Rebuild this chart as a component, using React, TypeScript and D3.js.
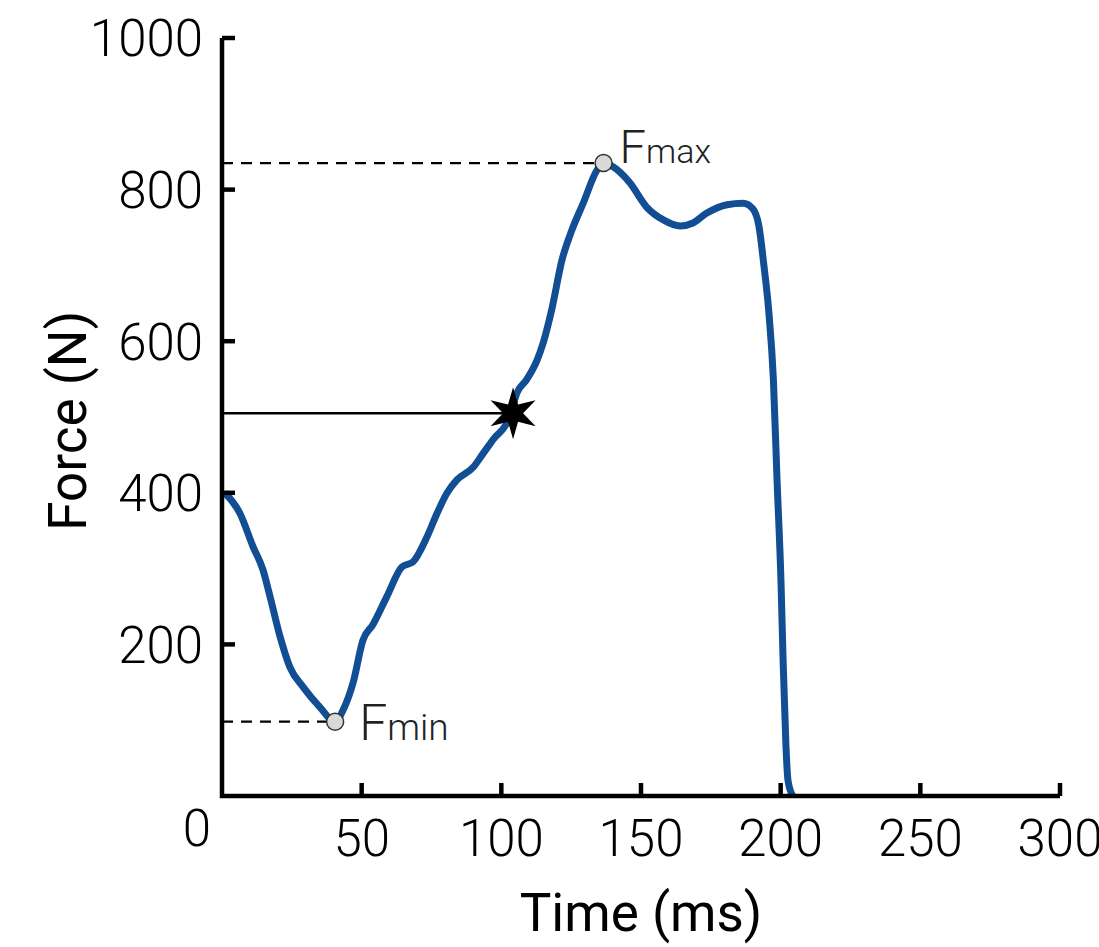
import React from "react";
import * as d3 from "d3";

const WIDTH = 1099;
const HEIGHT = 947;
const MARGIN = { top: 38, right: 39, bottom: 151, left: 222 };

// force trace
const timeMs = [
  1, 6.4, 11.1, 14.7, 17.2, 20.8, 24.3, 29, 35.1, 40.5, 43.3, 46.9, 50.5, 54,
  59, 64.4, 68.4, 73.4, 77, 80.6, 84.1, 90, 93.5, 97, 103, 105.6, 109, 112.8,
  115, 118, 121.7, 125.3, 129.3, 134.3, 136.6, 140, 146, 152, 158, 164, 168.6,
  173.6, 180.8, 186.5, 190, 192.2, 194, 195.8, 197.4, 198.7, 200.1, 200.9,
  201.9, 202.6, 204.3,
];
const forceN = [
  400, 373, 329, 298, 263, 210, 170, 144, 117, 98, 113, 149, 206, 226, 263,
  302, 309, 342, 373, 400, 417, 434, 452, 470, 500, 532, 549, 575, 598, 641,
  707, 747, 782, 826, 835, 830, 809, 777, 760, 752, 756, 769, 780, 782, 775,
  752, 700, 637, 549, 417, 285, 175, 65, 21, 0,
];

const xTicks = [50, 100, 150, 200, 250, 300];
const yTicks = [200, 400, 600, 800, 1000];

const fMin = { t: 40.5, f: 98 };
const fMax = { t: 136.6, f: 835 };
const marker = { t: 104.2, f: 505 };

const FONT = "Roboto, 'Noto Sans', sans-serif";

const App = () => {
  const boundsWidth = WIDTH - MARGIN.left - MARGIN.right;
  const boundsHeight = HEIGHT - MARGIN.top - MARGIN.bottom;

  const xScale = d3.scaleLinear().domain([0, 300]).range([0, boundsWidth]);
  const yScale = d3.scaleLinear().domain([0, 1000]).range([boundsHeight, 0]);

  const points = timeMs.map((t, i) => [t, forceN[i]]);
  const line = d3
    .line()
    .x((d) => xScale(d[0]))
    .y((d) => yScale(d[1]))
    .curve(d3.curveMonotoneX);

  // six-pointed star
  const starPts = d3.range(12).map((i) => {
    const r = i % 2 === 0 ? 26 : 10;
    const a = (i * Math.PI) / 6;
    return [a, r];
  });
  const star = d3.lineRadial().curve(d3.curveLinearClosed)(starPts);

  return (
    <svg
      width={WIDTH}
      height={HEIGHT}
      style={{ position: "absolute", left: 0, top: 0, background: "#fff" }}
    >
      <g transform={`translate(${MARGIN.left},${MARGIN.top})`}>
        {/* guide lines */}
        <line
          x1={0}
          x2={xScale(fMax.t)}
          y1={yScale(fMax.f)}
          y2={yScale(fMax.f)}
          stroke="#000"
          strokeWidth={2.2}
          strokeDasharray="11,8"
        />
        <line
          x1={0}
          x2={xScale(fMin.t)}
          y1={yScale(fMin.f)}
          y2={yScale(fMin.f)}
          stroke="#000"
          strokeWidth={2.2}
          strokeDasharray="11,8"
        />
        <line
          x1={0}
          x2={xScale(marker.t)}
          y1={yScale(marker.f)}
          y2={yScale(marker.f)}
          stroke="#000"
          strokeWidth={2.5}
        />

        <path
          d={line(points)}
          fill="none"
          stroke="#124e93"
          strokeWidth={7}
          strokeLinejoin="round"
        />

        <path
          d={star}
          transform={`translate(${xScale(marker.t)},${yScale(marker.f)})`}
          fill="#000"
        />

        {[fMin, fMax].map((p, i) => (
          <circle
            key={i}
            cx={xScale(p.t)}
            cy={yScale(p.f)}
            r={8.5}
            fill="#d9d9d9"
            stroke="#333"
            strokeWidth={1.5}
          />
        ))}

        <text
          x={xScale(fMax.t) + 16}
          y={yScale(fMax.f)}
          fontFamily={FONT}
          fontWeight={300}
          fill="#222"
        >
          <tspan fontSize={47}>F</tspan>
          <tspan fontSize={34}>max</tspan>
        </text>
        <text
          x={xScale(fMin.t) + 24}
          y={yScale(fMin.f) + 18}
          fontFamily={FONT}
          fontWeight={300}
          fill="#222"
        >
          <tspan fontSize={50}>F</tspan>
          <tspan fontSize={37}>min</tspan>
        </text>

        {/* axes */}
        <path
          d={`M0,0V${boundsHeight}H${boundsWidth}`}
          fill="none"
          stroke="#000"
          strokeWidth={4.5}
        />
        {yTicks.map((v) => (
          <g key={v} transform={`translate(0,${yScale(v)})`}>
            <line x1={0} x2={13} stroke="#000" strokeWidth={4.5} />
            <text
              x={-19}
              dy="0.36em"
              textAnchor="end"
              fontFamily={FONT}
              fontWeight={300}
              fontSize={51}
              fill="#000"
            >
              {v}
            </text>
          </g>
        ))}
        {xTicks.map((v) => (
          <g key={v} transform={`translate(${xScale(v)},${boundsHeight})`}>
            <line y1={0} y2={-13} stroke="#000" strokeWidth={4.5} />
            <text
              y={60}
              textAnchor="middle"
              fontFamily={FONT}
              fontWeight={300}
              fontSize={51}
              fill="#000"
            >
              {v}
            </text>
          </g>
        ))}
        <text
          x={xScale(0) - 25}
          y={boundsHeight + 50}
          textAnchor="middle"
          fontFamily={FONT}
          fontWeight={300}
          fontSize={51}
          fill="#000"
        >
          0
        </text>

        <text
          x={boundsWidth / 2}
          y={boundsHeight + 135}
          textAnchor="middle"
          fontFamily={FONT}
          fontSize={53}
          fill="#000"
        >
          Time (ms)
        </text>
        <text
          transform={`translate(${-136},${yScale(495)}) rotate(-90)`}
          textAnchor="middle"
          fontFamily={FONT}
          fontSize={53}
          fill="#000"
        >
          Force (N)
        </text>
      </g>
    </svg>
  );
};

export default App;
